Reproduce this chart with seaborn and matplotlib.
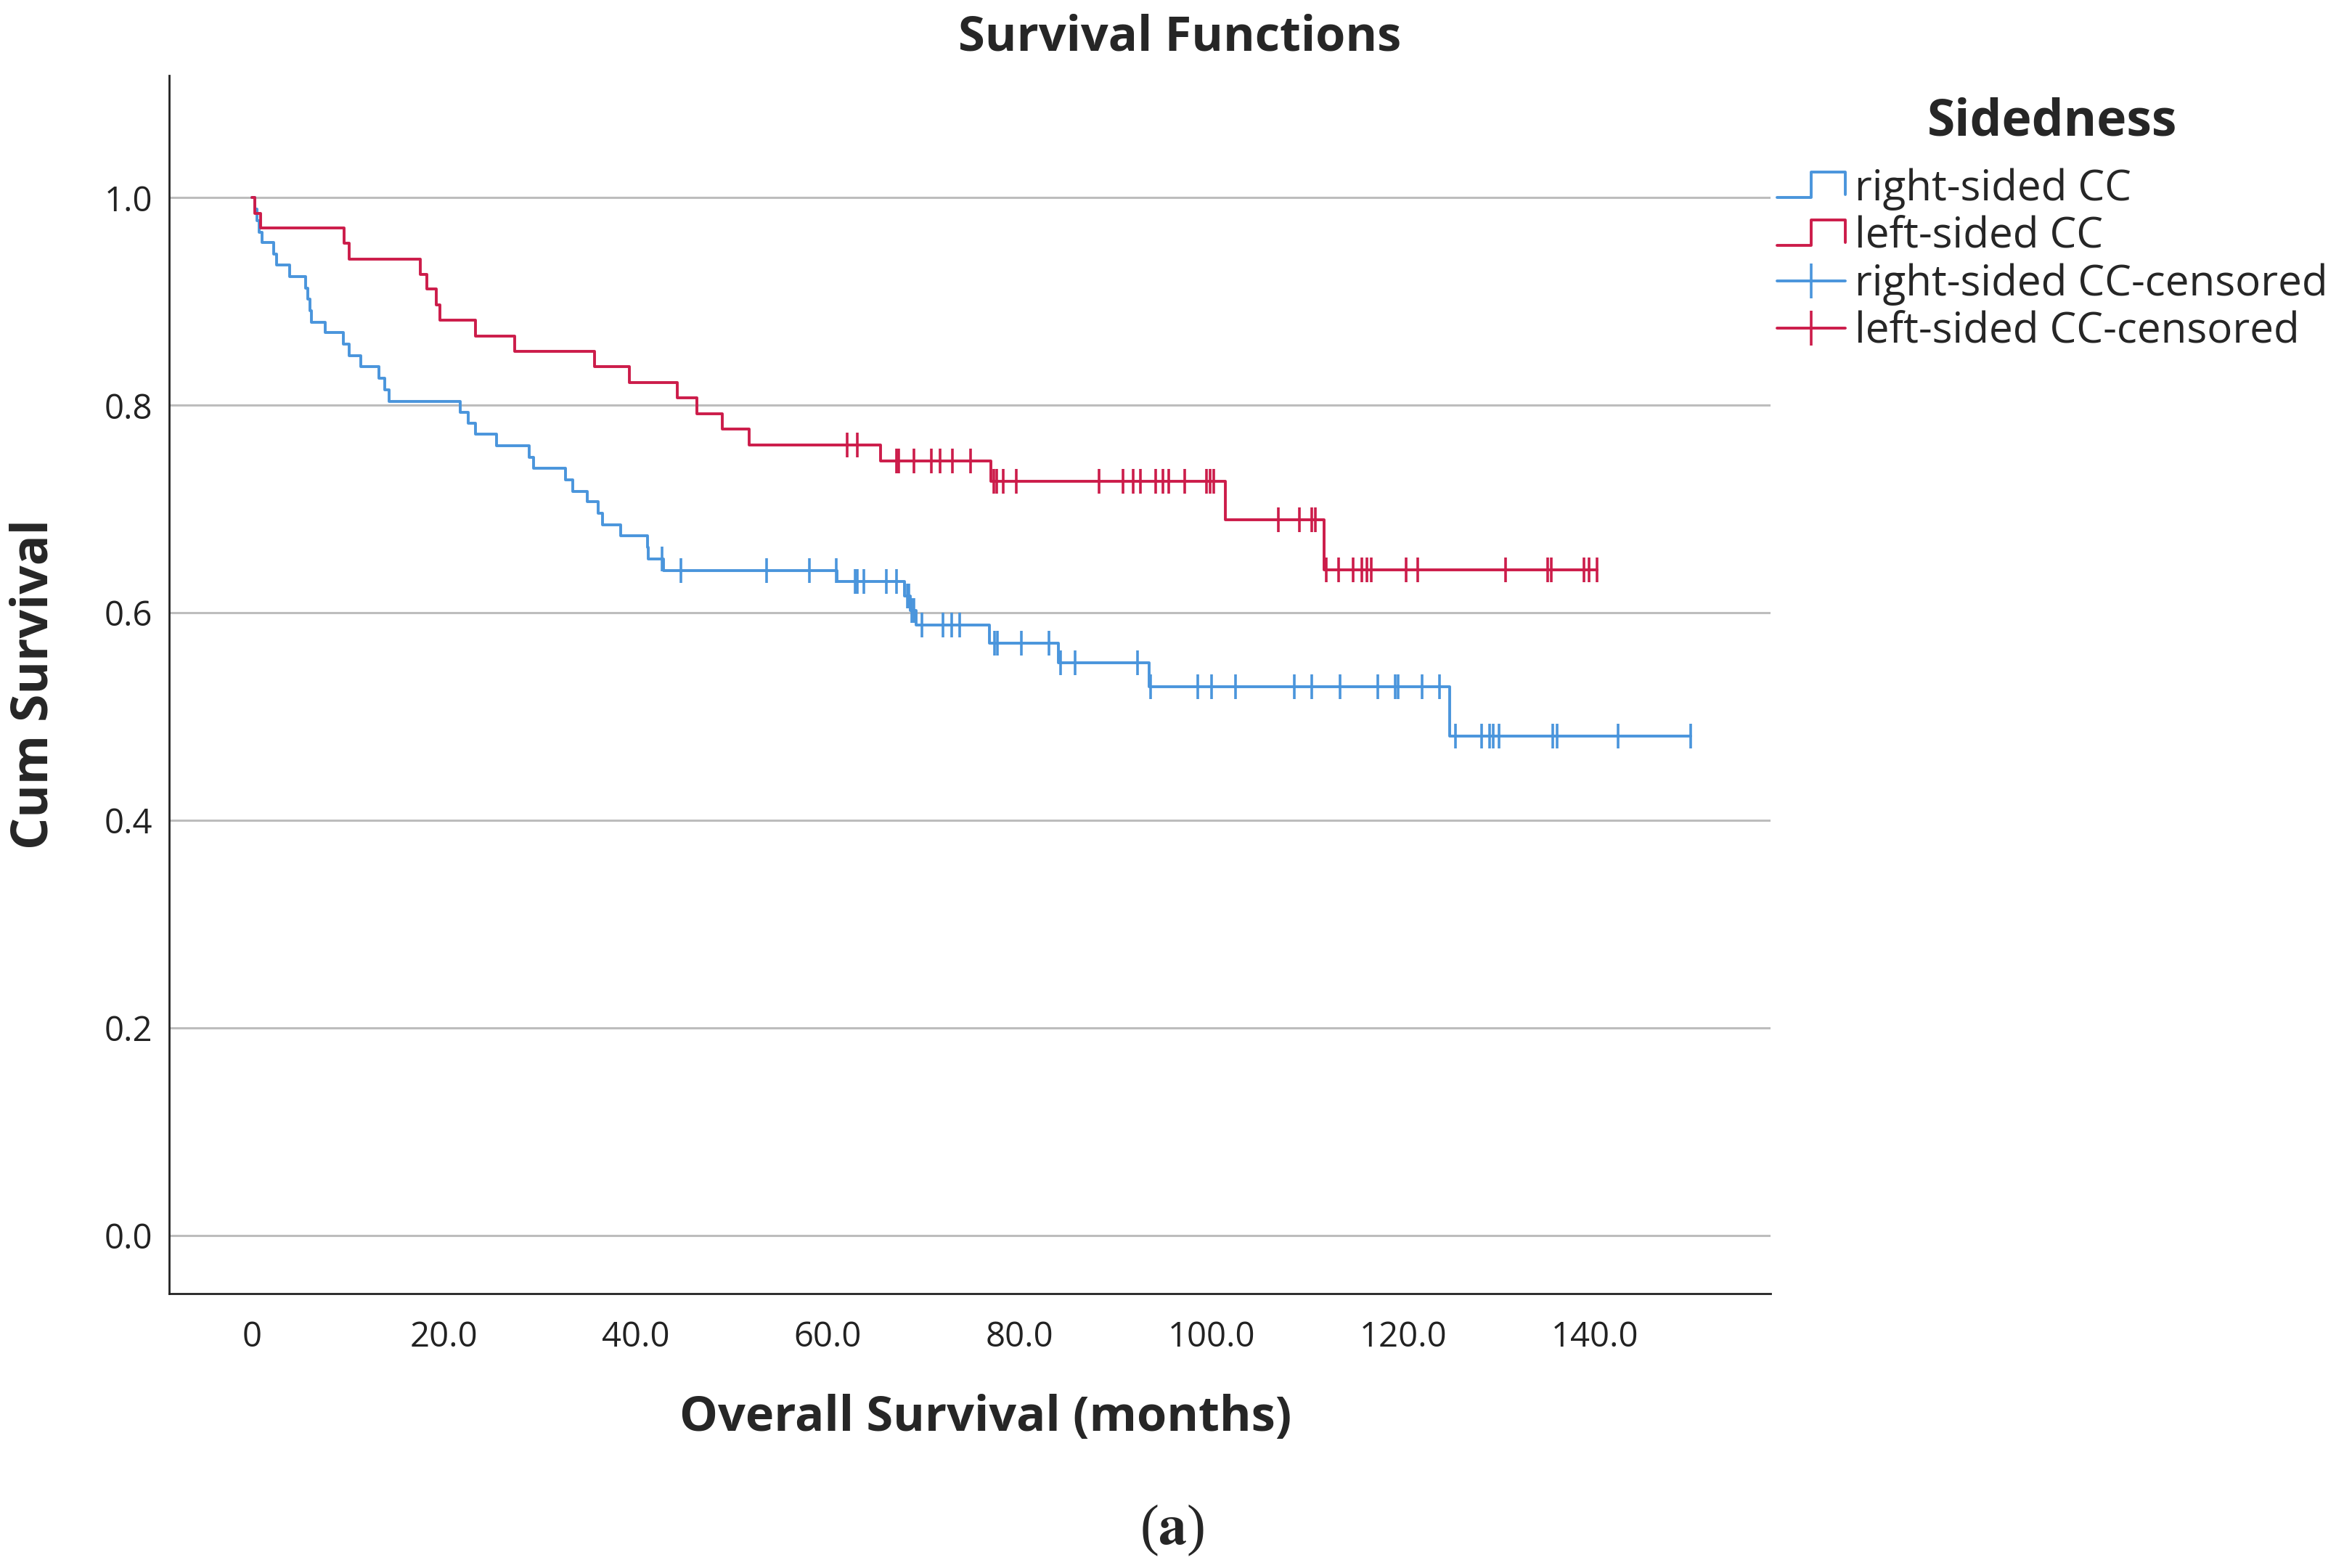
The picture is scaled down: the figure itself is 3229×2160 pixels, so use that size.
import numpy as np
import pandas as pd
import seaborn as sns
import matplotlib.pyplot as plt
from matplotlib.lines import Line2D
from matplotlib.legend_handler import HandlerBase

sns.set_theme(style="white")
plt.rcParams['font.family'] = ['Open Sans', 'DejaVu Sans']
plt.rcParams['mathtext.fontset'] = 'stix'

# Kaplan-Meier steps (months, cumulative survival after the step)
right_event_times = [0.3, 0.5, 0.7, 1.0, 2.2, 2.5, 3.9, 5.6, 5.8, 6.0, 6.2, 7.6, 9.5, 10.1,
                     11.3, 13.2, 13.8, 14.3, 21.7, 22.5, 23.3, 25.5, 28.9, 29.3, 32.7, 33.4,
                     34.9, 36.1, 36.5, 38.4, 41.2, 41.3, 42.9, 61.0, 68.0, 68.6, 69.2, 76.9,
                     84.1, 93.5, 124.9]
right_surv = [0.989, 0.978, 0.967, 0.957, 0.946, 0.935, 0.924, 0.913, 0.902, 0.891, 0.880,
              0.870, 0.859, 0.848, 0.837, 0.826, 0.815, 0.804, 0.793, 0.783, 0.772, 0.761,
              0.750, 0.739, 0.728, 0.717, 0.707, 0.696, 0.685, 0.674, 0.663, 0.652, 0.641,
              0.630, 0.616, 0.602, 0.588, 0.571, 0.552, 0.529, 0.481]
right_censored = [42.7, 44.7, 53.6, 58.1, 60.9, 62.9, 63.1, 63.8, 66.1, 67.2, 68.3, 68.5,
                  68.8, 69.0, 69.8, 72.0, 72.9, 73.8, 77.4, 77.7, 80.2, 83.1, 84.3, 85.8,
                  92.3, 93.7, 98.6, 100.0, 102.5, 108.7, 110.5, 113.4, 117.4, 119.2, 119.5,
                  122.0, 123.8, 125.5, 128.2, 129.0, 129.4, 130.0, 135.6, 136.1, 142.4, 150.0]

left_event_times = [0.3, 0.9, 9.6, 10.1, 17.5, 18.2, 19.2, 19.6, 23.3, 27.4, 35.7, 39.3,
                    44.3, 46.4, 49.0, 51.8, 65.5, 77.0, 101.5, 111.8]
left_surv = [0.985, 0.971, 0.956, 0.941, 0.926, 0.912, 0.897, 0.882, 0.867, 0.852, 0.837,
             0.822, 0.807, 0.792, 0.777, 0.762, 0.746, 0.727, 0.690, 0.6415]
left_censored = [62.0, 63.1, 67.2, 67.4, 69.0, 70.8, 71.7, 73.0, 74.9, 77.3, 77.6, 78.3,
                 79.7, 88.3, 90.8, 91.9, 92.6, 94.2, 95.0, 95.6, 97.2, 99.5, 99.9, 100.3,
                 107.0, 109.2, 110.5, 110.9, 112.0, 113.3, 114.8, 115.7, 116.2, 116.7,
                 120.3, 121.5, 130.7, 135.1, 135.5, 138.9, 139.4, 140.2]

groups = ["right-sided CC", "left-sided CC"]
colors = {"right-sided CC": "#4a95dc", "left-sided CC": "#cc1c4a"}


def step_frame(name, times, surv, censored):
    t = [0.0] + list(times) + [max(censored)]
    s = [1.0] + list(surv) + [surv[-1]]
    return pd.DataFrame({"time": t, "surv": s, "group": name})


def censor_frame(name, times, surv, censored):
    t_all = np.array([0.0] + list(times))
    s_all = np.array([1.0] + list(surv))
    idx = np.searchsorted(t_all, censored, side="right") - 1
    return pd.DataFrame({"time": censored, "surv": s_all[idx], "group": name})


curves = pd.concat([step_frame(groups[0], right_event_times, right_surv, right_censored),
                    step_frame(groups[1], left_event_times, left_surv, left_censored)])
marks = pd.concat([censor_frame(groups[0], right_event_times, right_surv, right_censored),
                   censor_frame(groups[1], left_event_times, left_surv, left_censored)])


class StepHandler(HandlerBase):
    def create_artists(self, legend, orig_handle, xdescent, ydescent, width, height, fontsize, trans):
        x0 = -xdescent
        lo = -ydescent + 0.1 * height
        hi = -ydescent + 0.95 * height
        xs = [x0, x0 + 0.5 * width, x0 + 0.5 * width, x0 + width, x0 + width]
        ys = [lo, lo, hi, hi, lo + 0.1 * height]
        return [Line2D(xs, ys, color=orig_handle.get_color(), lw=orig_handle.get_linewidth(),
                       transform=trans)]


fig = plt.figure(figsize=(16.15, 10.8), dpi=200)
ax = fig.add_axes([0.072, 0.175, 0.683, 0.777])

sns.lineplot(data=curves, x="time", y="surv", hue="group", palette=colors, estimator=None,
             sort=False, drawstyle="steps-post", linewidth=1.4, legend=False, ax=ax)
sns.scatterplot(data=marks, x="time", y="surv", hue="group", palette=colors, marker="|",
                s=150, linewidth=1.3, legend=False, ax=ax)

ax.set_xlim(-8.7, 158.3)
ax.set_ylim(-0.056, 1.118)
ax.set_xticks([0, 20, 40, 60, 80, 100, 120, 140])
ax.set_xticklabels(["0", "20.0", "40.0", "60.0", "80.0", "100.0", "120.0", "140.0"])
ax.set_yticks([0.0, 0.2, 0.4, 0.6, 0.8, 1.0])
ax.set_yticklabels(["0.0", "0.2", "0.4", "0.6", "0.8", "1.0"])
ax.tick_params(axis="both", length=0, labelsize=17, colors="#222222")
ax.tick_params(axis="x", pad=13)
ax.tick_params(axis="y", pad=8)
ax.yaxis.grid(True, color="#bdbdbd", linewidth=1.1)
ax.xaxis.grid(False)
for side in ["top", "right"]:
    ax.spines[side].set_visible(False)
for side in ["left", "bottom"]:
    ax.spines[side].set_color("#222222")
    ax.spines[side].set_linewidth(1.0)

ax.set_xlabel("Overall Survival (months)", fontsize=24, fontweight="bold")
ax.set_ylabel("Cum Survival", fontsize=25, fontweight="bold")
ax.xaxis.set_label_coords(0.51, -0.082)
ax.yaxis.set_label_coords(-0.068, 0.5)

fig.suptitle("Survival Functions", x=0.503, y=0.976, va="center", fontsize=24, fontweight="bold")

handles = [Line2D([], [], color=colors[groups[0]], lw=1.4),
           Line2D([], [], color=colors[groups[1]], lw=1.4),
           Line2D([], [], color=colors[groups[0]], lw=1.4, marker="|", markersize=17, mew=1.3),
           Line2D([], [], color=colors[groups[1]], lw=1.4, marker="|", markersize=17, mew=1.3)]
labels = ["right-sided CC", "left-sided CC", "right-sided CC-censored", "left-sided CC-censored"]
leg = fig.legend(handles, labels, title="Sidedness", loc="upper left",
                 bbox_to_anchor=(0.758, 0.938), frameon=False, fontsize=21,
                 title_fontproperties={"weight": "bold", "size": 25},
                 handlelength=1.6, handletextpad=0.22, labelspacing=0.12, borderpad=0,
                 borderaxespad=0, numpoints=1,
                 handler_map={handles[0]: StepHandler(), handles[1]: StepHandler()})
leg._legend_box.sep = 10

fig.text(0.5, 0.024, r"($\mathbf{a}$)", ha="center", va="center", fontsize=28,
         family=["Liberation Serif", "DejaVu Serif"])

fig.savefig("out.png", dpi=200, facecolor="white")
